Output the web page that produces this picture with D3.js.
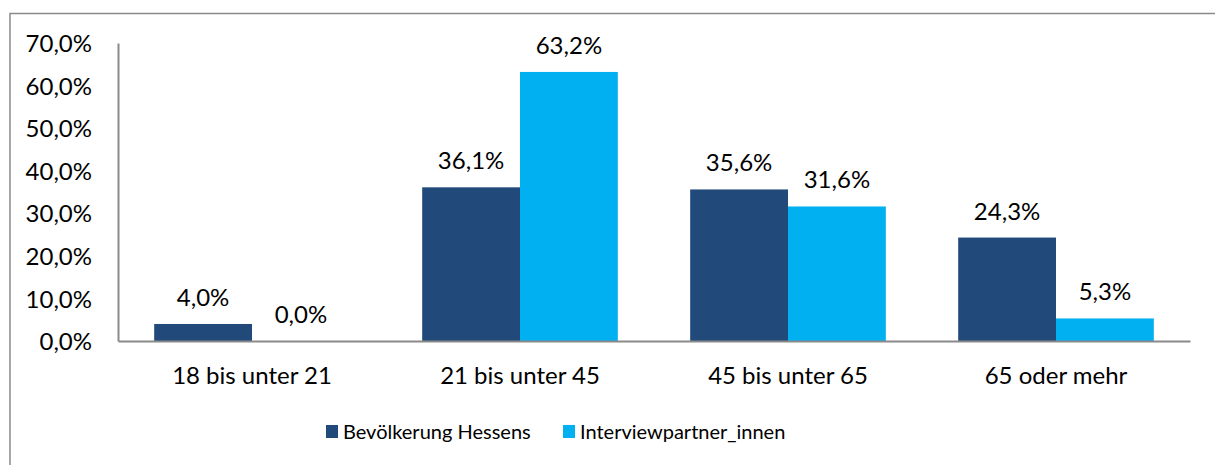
<!DOCTYPE html>
<html>
<head>
<meta charset="utf-8">
<script src="https://cdn.jsdelivr.net/npm/d3@7"></script>
<style>
  body { margin: 0; background: #fff; }
  text { font-family: Lato, "Open Sans", sans-serif; fill: #000; }
</style>
</head>
<body>
<div id="chart"></div>
<script>
/* Data */
var categories = ["18 bis unter 21", "21 bis unter 45", "45 bis unter 65", "65 oder mehr"];
var seriesNames = ["Bevölkerung Hessens", "Interviewpartner_innen"];
var bevoelkerung = [4.0, 36.1, 35.6, 24.3];
var interviewpartner = [0.0, 63.2, 31.6, 5.3];
var yTicks = [0, 10, 20, 30, 40, 50, 60, 70];

var colors = ["#214a7b", "#00b0f0"];
var fontSize = 24;
var legendFontSize = 20;

var width = 1215, height = 465;
var margin = { top: 43, left: 118, right: 25, bottom: 124 };

var de = d3.formatLocale({ decimal: ",", thousands: ".", grouping: [3], currency: ["", "€"] });
var fmt = function(v) { return de.format(".1f")(v) + "%"; };

var svg = d3.select("#chart").append("svg")
    .attr("width", width)
    .attr("height", height);

// outer frame (runs off the right and bottom edge like the source)
svg.append("rect")
    .attr("x", 10).attr("y", 13.5)
    .attr("width", width + 20).attr("height", height + 20)
    .attr("fill", "none")
    .attr("stroke", "#8a8a8a")
    .attr("stroke-width", 1.5);

var x0 = d3.scaleBand()
    .domain(categories)
    .range([margin.left, 1190])
    .paddingInner(0.27)
    .paddingOuter(0.135);

var x1 = d3.scaleBand()
    .domain(seriesNames)
    .range([0, x0.bandwidth()]);

var y = d3.scaleLinear()
    .domain([0, 70])
    .range([341, margin.top]);

var rows = categories.map(function(c, i) {
    return { cat: c, values: [bevoelkerung[i], interviewpartner[i]] };
});

// bars
var groups = svg.selectAll("g.cat")
    .data(rows).enter()
    .append("g")
    .attr("class", "cat")
    .attr("transform", function(d) { return "translate(" + x0(d.cat) + ",0)"; });

groups.selectAll("rect")
    .data(function(d) { return d.values.map(function(v, j) { return { s: seriesNames[j], v: v, j: j }; }); })
    .enter().append("rect")
    .attr("x", function(d) { return x1(d.s); })
    .attr("y", function(d) { return y(d.v); })
    .attr("width", x1.bandwidth())
    .attr("height", function(d) { return y(0) - y(d.v); })
    .attr("fill", function(d) { return colors[d.j]; });

// value labels
groups.selectAll("text")
    .data(function(d) { return d.values.map(function(v, j) { return { s: seriesNames[j], v: v }; }); })
    .enter().append("text")
    .attr("x", function(d) { return x1(d.s) + x1.bandwidth() / 2; })
    .attr("y", function(d) { return y(d.v) - 18; })
    .attr("text-anchor", "middle")
    .style("font-size", fontSize + "px")
    .text(function(d) { return fmt(d.v); });

// y axis
var yAxis = svg.append("g")
    .attr("transform", "translate(" + margin.left + ",0)")
    .call(d3.axisLeft(y).tickValues(yTicks).tickSize(0).tickPadding(26).tickFormat(fmt));
yAxis.select(".domain").attr("stroke", "#8a8a8a").attr("stroke-width", 2);
yAxis.selectAll("text")
    .style("font-size", fontSize + "px")
    .attr("font-family", null)
    .attr("dy", "0.36em");

// x axis
var xAxis = svg.append("g")
    .attr("transform", "translate(0," + y(0) + ")")
    .call(d3.axisBottom(x0).tickSize(0).tickPadding(26));
xAxis.select(".domain").attr("stroke", "#8a8a8a").attr("stroke-width", 2);
xAxis.selectAll("text")
    .style("font-size", fontSize + "px")
    .attr("font-family", null);

// legend
var legendX = [326, 563];
var legend = svg.selectAll("g.legend")
    .data(seriesNames).enter()
    .append("g")
    .attr("class", "legend")
    .attr("transform", function(d, i) { return "translate(" + legendX[i] + ",425)"; });

legend.append("rect")
    .attr("width", 12).attr("height", 13)
    .attr("fill", function(d, i) { return colors[i]; });

legend.append("text")
    .attr("x", 17)
    .attr("y", 14)
    .style("font-size", legendFontSize + "px")
    .text(function(d) { return d; });
</script>
</body>
</html>
